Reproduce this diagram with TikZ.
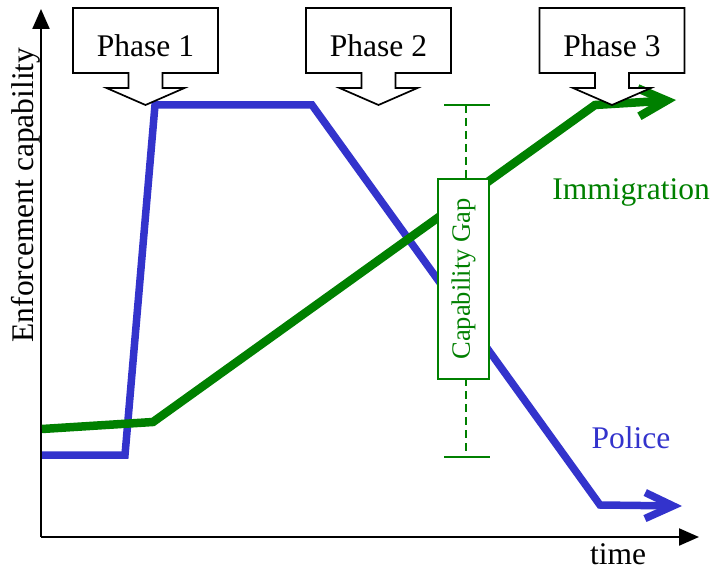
\documentclass[tikz,border=0pt]{standalone}
\usepackage{fontspec}
\setmainfont{Liberation Serif}
\usetikzlibrary{arrows.meta}
\definecolor{polblue}{RGB}{51,51,204}
\definecolor{imgreen}{RGB}{0,128,0}
\begin{document}
\begin{tikzpicture}[x=1pt,y=-1pt,
  lbl/.style={font=\fontsize{31.5}{36}\selectfont, inner sep=0pt},
  callout/.style={draw=black, line width=1.7pt, fill=white, line join=miter},
  axis/.style={line width=2.2pt, -{Triangle[length=20pt,width=17pt]}},
  police/.style={draw=polblue, line width=7.5pt, line join=miter, -{Straight Barb[length=28pt,width=26pt]}},
  immig/.style={draw=imgreen, line width=8.5pt, line join=miter, -{Straight Barb[length=28pt,width=28pt]}},
  gapline/.style={draw=imgreen, line width=2pt},
  phasecallout/.pic={\draw[callout] (-72.5,8) -- (72.5,8) -- (72.5,73) -- (17,73) -- (17,88) -- (39,88) -- (0,105) -- (-39,88) -- (-17,88) -- (-17,73) -- (-72.5,73) -- cycle;}
]
\useasboundingbox (0,0) rectangle (717,572);

% axes
\coordinate (O) at (41,537);
\coordinate (ytop) at (41,9);
\coordinate (xend) at (699,537);
\draw[axis] (O) -- (ytop);
\draw[axis] (O) -- (xend);
\node[lbl, rotate=90, anchor=base] (ylab) at (33,195) {Enforcement capability};
\node[lbl, anchor=base, text depth=0pt] (xlab) at (618,564) {time};

% police line
\coordinate (p1) at (42,455);
\coordinate (p2) at (125,455);
\coordinate (p3) at (155,105);
\coordinate (p4) at (312,105);
\coordinate (p5) at (600,505);
\coordinate (p6) at (682,506);
\draw[police] (p1) -- (p2) -- (p3) -- (p4) -- (p5) -- (p6);

% immigration line
\coordinate (g1) at (42,429);
\coordinate (g2) at (153,422);
\coordinate (g3) at (595,105);
\coordinate (g4) at (676,100);
\draw[immig] (g1) -- (g2) -- (g3) -- (g4);

\node[lbl, text=imgreen, anchor=base] (imlab) at (631,200) {Immigration};
\node[lbl, text=polblue, anchor=base] (pollab) at (631,448) {Police};

% phases
\pic at (145.5,0) {phasecallout};
\pic at (378.5,0) {phasecallout};
\pic at (612,0) {phasecallout};
\node[lbl, anchor=base] (ph1) at (145.5,57) {Phase 1};
\node[lbl, anchor=base] (ph2) at (378.5,57) {Phase 2};
\node[lbl, anchor=base] (ph3) at (612,57) {Phase 3};

% capability gap
\coordinate (gtop) at (466,105);
\coordinate (gbot) at (466,457);
\draw[gapline, dash pattern=on 8pt off 5pt] (gtop) -- (gbot);
\draw[gapline] ([xshift=-22pt]gtop) -- ([xshift=24pt]gtop);
\draw[gapline] ([xshift=-22pt]gbot) -- ([xshift=24pt]gbot);
\node[draw=imgreen, line width=2pt, fill=white, rotate=90, minimum width=200pt, minimum height=51pt, inner sep=0pt, text=imgreen, font=\fontsize{26.5}{30}\selectfont] (gap) at (463.5,279) {Capability Gap};
\end{tikzpicture}
\end{document}
